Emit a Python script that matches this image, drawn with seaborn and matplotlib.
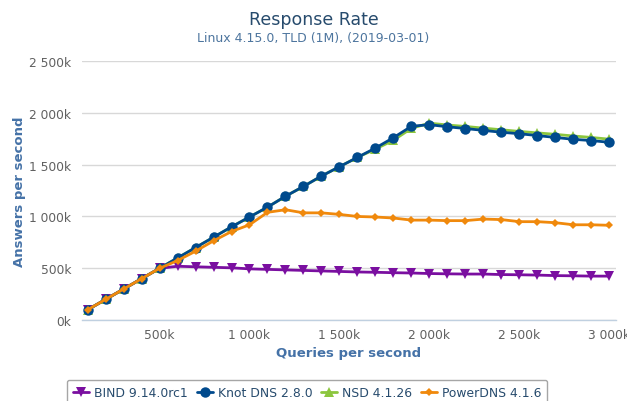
import matplotlib
matplotlib.use("Agg")
import matplotlib.pyplot as plt
from matplotlib.ticker import FuncFormatter
import numpy as np
import pandas as pd
import seaborn as sns

# --- data (thousands) ---
queries = list(range(100, 3001, 100))

bind = [100, 200, 300, 400, 500, 520, 515, 510, 505, 495,
        490, 485, 480, 475, 470, 465, 462, 458, 455, 450,
        447, 445, 445, 440, 438, 435, 430, 428, 425, 425]
knot = [100, 200, 300, 400, 500, 600, 700, 800, 900, 995,
        1090, 1195, 1290, 1390, 1480, 1570, 1660, 1760, 1870, 1885,
        1865, 1848, 1830, 1812, 1798, 1780, 1762, 1744, 1732, 1715]
nsd = [100, 200, 300, 400, 500, 600, 700, 800, 900, 995,
       1090, 1195, 1290, 1390, 1480, 1570, 1650, 1735, 1850, 1900,
       1882, 1868, 1852, 1836, 1820, 1806, 1792, 1776, 1762, 1745]
powerdns = [100, 200, 300, 400, 500, 575, 665, 765, 855, 920,
            1040, 1065, 1035, 1035, 1020, 1000, 995, 985, 965, 965,
            960, 960, 975, 970, 950, 950, 940, 920, 920, 915]

names = ["BIND 9.14.0rc1", "Knot DNS 2.8.0", "NSD 4.1.26", "PowerDNS 4.1.6"]
series = [bind, knot, nsd, powerdns]
colors = ["#7A0FA0", "#004A8D", "#8CC63E", "#F0890C"]
markers = ["v", "o", "^", "D"]
msizes = [6.5, 7.5, 6.5, 4.5]

x_ticks = [500, 1000, 1500, 2000, 2500, 3000]
y_ticks = [0, 500, 1000, 1500, 2000, 2500]


def kfmt(v, pos=None):
    v = int(round(v))
    return f"{v:,}".replace(",", " ") + "k"


sns.set_style("white")
plt.rcParams["font.family"] = ["DejaVu Sans"]

fig = plt.figure(figsize=(6.27, 4.02), dpi=100)
ax = fig.add_axes([0.131, 0.201, 0.851, 0.645])

# Knot drawn above NSD, as in the reference
z_order = [3, 6, 5, 7]
for i, (name, vals) in enumerate(zip(names, series)):
    df = pd.DataFrame({"q": queries, "a": vals})
    sns.lineplot(data=df, x="q", y="a", ax=ax, color=colors[i],
                 marker=markers[i], markersize=msizes[i],
                 markeredgewidth=0, linewidth=2, label=name,
                 zorder=z_order[i], legend=False)

ax.set_xlim(70, 3035)
ax.set_ylim(0, 2500)
ax.set_xticks(x_ticks)
ax.set_yticks(y_ticks)
ax.xaxis.set_major_formatter(FuncFormatter(kfmt))
ax.yaxis.set_major_formatter(FuncFormatter(kfmt))

ax.grid(axis="y", color="#D8D8D8", linewidth=1)
ax.grid(axis="x", visible=False)
for s in ["top", "right", "left"]:
    ax.spines[s].set_visible(False)
ax.spines["bottom"].set_color("#C0D0E0")
ax.spines["bottom"].set_linewidth(1)
ax.tick_params(axis="x", colors="#C0D0E0", length=5, width=1,
               labelcolor="#606060", labelsize=8.8, pad=0.5)
ax.tick_params(axis="y", length=0, labelcolor="#606060", labelsize=8.8, pad=8)

ax.set_xlabel("Queries per second", color="#4572A7", fontsize=9.5,
              fontweight="bold", labelpad=4)
ax.set_ylabel("Answers per second", color="#4572A7", fontsize=9.5,
              fontweight="bold", labelpad=2)

fig.text(0.5, 0.95, "Response Rate", ha="center", va="center",
         color="#274b6d", fontsize=12.5)
fig.text(0.5, 0.905, "Linux 4.15.0, TLD (1M), (2019-03-01)", ha="center",
         va="center", color="#4d759e", fontsize=9)

handles = [plt.Line2D([], [], color=c, marker=m, markersize=s,
                      markeredgewidth=0, linewidth=2)
           for c, m, s in zip(colors, markers, msizes)]
leg = fig.legend(handles, names, loc="upper left",
                 bbox_to_anchor=(0.097, 0.068), ncol=4, frameon=True,
                 fontsize=8.9, handlelength=1.3, handletextpad=0.4,
                 columnspacing=0.7, borderpad=0.5, fancybox=True)
leg.get_frame().set_edgecolor("#909090")
leg.get_frame().set_linewidth(1)
for t in leg.get_texts():
    t.set_color("#274b6d")

fig.savefig("out.png", dpi=100)
